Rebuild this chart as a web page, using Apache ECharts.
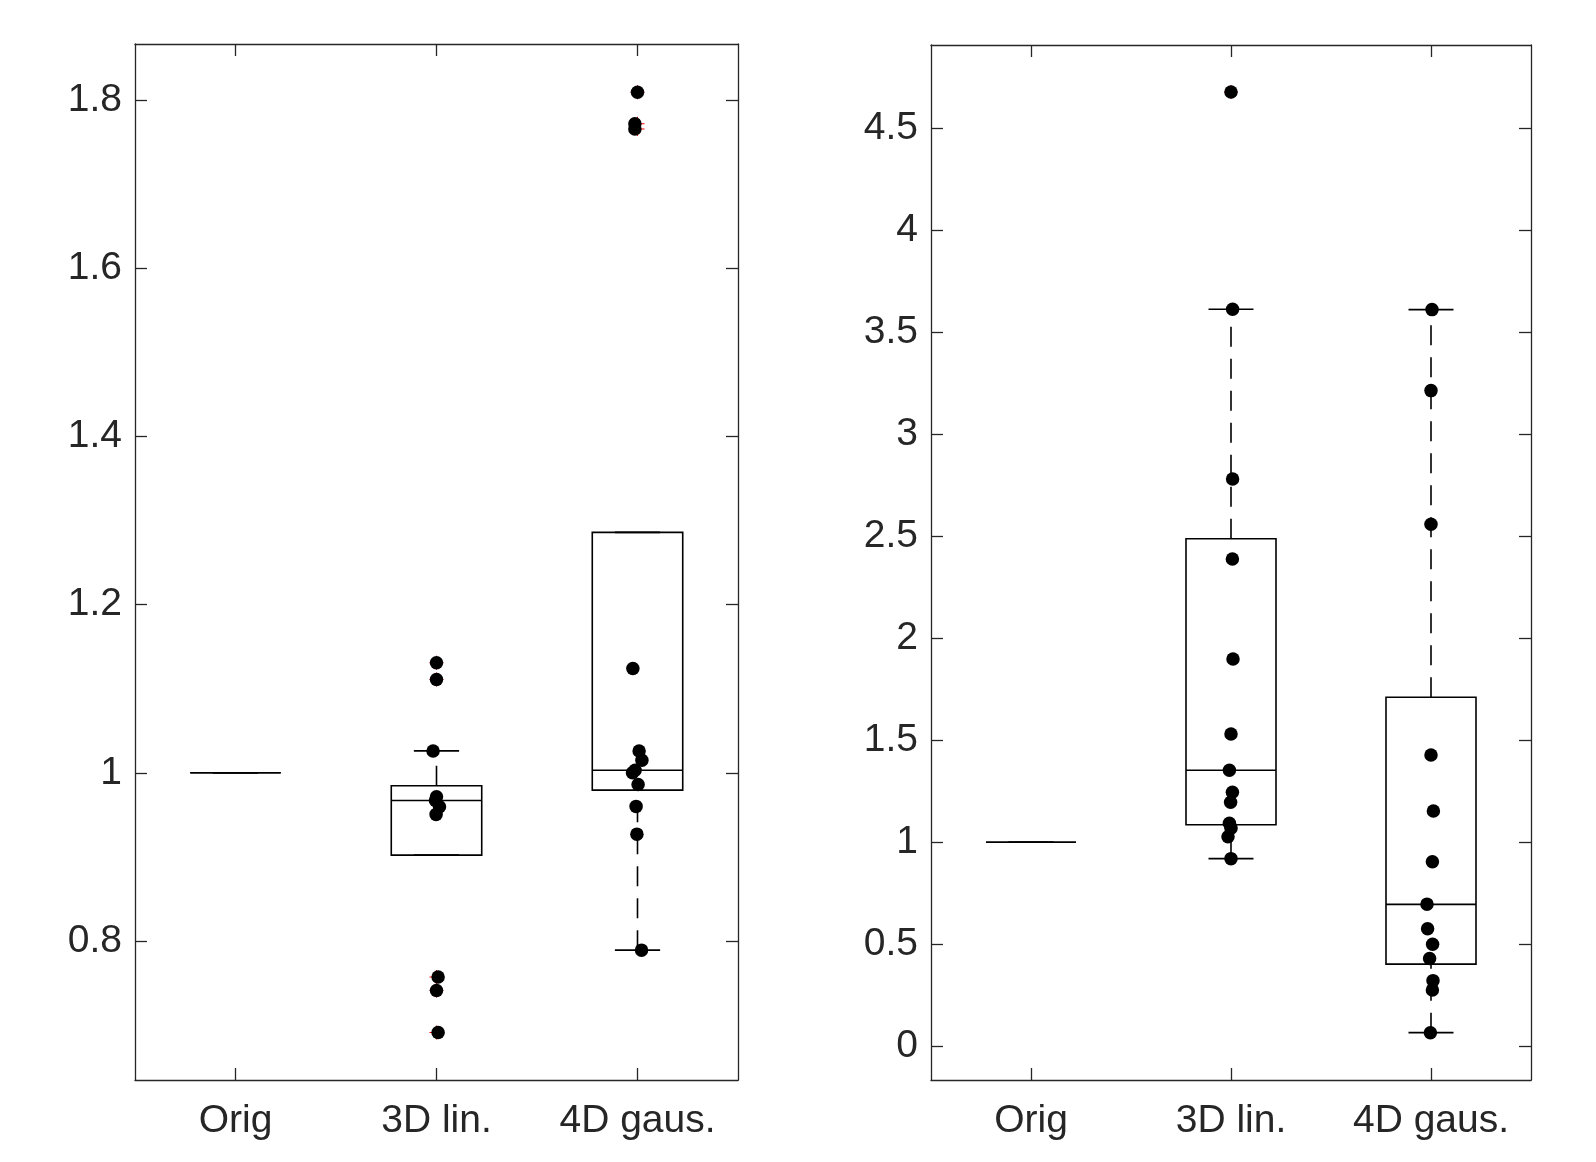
<!DOCTYPE html>
<html lang="en">

<head>
    <meta charset="UTF-8">
    <meta name="viewport" content="width=device-width, initial-scale=1.0">
    <script src="https://cdn.jsdelivr.net/npm/echarts@6.0.0/dist/echarts.min.js"></script>
    <style>
        * {
            margin: 0;
            padding: 0;
        }

        body {
            background-color: #fff;
        }

        #main {
            width: 1596px;
            height: 1162px;
        }
    </style>
    <title>boxplots</title>
</head>

<body>
    <div id="main"></div>
</body>
<script>
    // categories along x (positions 1, 2, 3)
    var categories = ['Orig', '3D lin.', '4D gaus.'];

    // left panel ---------------------------------------------
    var leftTicks = [0.8, 1, 1.2, 1.4, 1.6, 1.8];
    // [position, min whisker, q1, median, q3, max whisker]
    var leftBoxes = [
        [1, 1, 1, 1, 1, 1],
        [2, 0.902, 0.902, 0.967, 0.9845, 1.026],
        [3, 0.789, 0.9794, 1.003, 1.286, 1.286]
    ];
    // single runs [x incl. jitter, value]
    var leftPoints = [
        [2.0, 1.131], [2.0, 1.111], [1.983, 1.026], [2.0, 0.9714], [2.015, 0.9596],
        [1.995, 0.967], [1.998, 0.9505], [2.008, 0.757], [2.0, 0.741], [2.008, 0.691],
        [3.0, 1.8095], [2.987, 1.772], [2.987, 1.766], [2.977, 1.124], [3.008, 1.026],
        [3.022, 1.015], [2.988, 1.003], [2.975, 1.0], [3.003, 0.986], [2.993, 0.960],
        [2.997, 0.927], [3.02, 0.789]
    ];
    // outliers flagged by the boxplot (red +)
    var leftOutliers = [
        [2, 1.131], [2, 1.111], [2, 0.757], [2, 0.741], [2, 0.691],
        [3, 1.8095], [3, 1.772], [3, 1.766]
    ];

    // right panel --------------------------------------------
    var rightTicks = [0, 0.5, 1, 1.5, 2, 2.5, 3, 3.5, 4, 4.5];
    var rightBoxes = [
        [1, 1, 1, 1, 1, 1],
        [2, 0.920, 1.086, 1.353, 2.488, 3.613],
        [3, 0.067, 0.403, 0.696, 1.711, 3.611]
    ];
    var rightPoints = [
        [2.0, 4.678], [2.008, 3.613], [2.008, 2.781], [2.007, 2.389], [2.01, 1.899],
        [2.0, 1.531], [1.992, 1.353], [2.007, 1.245], [1.998, 1.196], [1.992, 1.093],
        [2.0, 1.069], [1.985, 1.027], [2.0, 0.920],
        [3.005, 3.611], [3.0, 3.214], [3.0, 2.559], [3.0, 1.428], [3.012, 1.153],
        [3.007, 0.905], [2.98, 0.697], [2.983, 0.576], [3.008, 0.500], [2.993, 0.431],
        [3.01, 0.322], [3.007, 0.276], [2.997, 0.067]
    ];
    var rightOutliers = [[2, 4.678]];

    var axisColor = '#262626';
    var font = '"Liberation Sans", Arial, Helvetica, sans-serif';
    // thin plus sign, arms 1/14 thick
    var plusPath = 'path://M6.5,0L7.5,0L7.5,6.5L14,6.5L14,7.5L7.5,7.5L7.5,14L6.5,14L6.5,7.5L0,7.5L0,6.5L6.5,6.5Z';

    // box + dashed whiskers + caps, drawn in data coordinates
    function renderBox(params, api) {
        var x = api.value(0);
        var lo = api.value(1), q1 = api.value(2), med = api.value(3), q3 = api.value(4), hi = api.value(5);
        var hw = 0.225, cw = 0.1125;
        var pt = function (a, b) { return api.coord([a, b]); };
        var solid = { stroke: '#000', lineWidth: 1.6, fill: null };
        var dashed = { stroke: '#000', lineWidth: 1.6, fill: null, lineDash: [20, 12] };
        var line = function (p1, p2, st) {
            return { type: 'line', shape: { x1: p1[0], y1: p1[1], x2: p2[0], y2: p2[1] }, style: st };
        };
        var children = [];
        // whiskers are drawn from the lower value upward
        if (q1 > lo) children.push(line(pt(x, lo), pt(x, q1), dashed));
        if (hi > q3) children.push(line(pt(x, q3), pt(x, hi), dashed));
        children.push(line(pt(x - cw, lo), pt(x + cw, lo), solid));
        children.push(line(pt(x - cw, hi), pt(x + cw, hi), solid));
        var a = pt(x - hw, q3), b = pt(x + hw, q1);
        children.push({
            type: 'polygon',
            shape: { points: [[a[0], a[1]], [b[0], a[1]], [b[0], b[1]], [a[0], b[1]]] },
            style: solid
        });
        children.push(line(pt(x - hw, med), pt(x + hw, med), solid));
        return { type: 'group', children: children };
    }

    function xAxes(gridIndex) {
        var base = {
            type: 'value', gridIndex: gridIndex, min: 0.5, max: 3.5,
            axisLine: { show: true, onZero: false, lineStyle: { color: axisColor, width: 1.3 } },
            axisTick: { show: true, inside: true, length: 12, customValues: [1, 2, 3], lineStyle: { color: axisColor, width: 1.3 } },
            splitLine: { show: false }
        };
        var bottom = Object.assign({}, base, {
            position: 'bottom',
            axisLabel: {
                show: true, customValues: [1, 2, 3], margin: 22,
                color: axisColor, fontSize: 39, fontFamily: font,
                formatter: function (v) { return categories[Math.round(v) - 1]; }
            }
        });
        var top = Object.assign({}, base, { position: 'top', axisLabel: { show: false } });
        return [bottom, top];
    }

    function yAxes(gridIndex, min, max, ticks) {
        var base = {
            type: 'value', gridIndex: gridIndex, min: min, max: max,
            axisLine: { show: true, onZero: false, lineStyle: { color: axisColor, width: 1.3 } },
            axisTick: { show: true, inside: true, length: 12, customValues: ticks, lineStyle: { color: axisColor, width: 1.3 } },
            splitLine: { show: false }
        };
        var left = Object.assign({}, base, {
            position: 'left',
            axisLabel: {
                show: true, customValues: ticks, margin: 13,
                color: axisColor, fontSize: 39, fontFamily: font,
                formatter: function (v) { return String(Math.round(v * 10) / 10); }
            }
        });
        var right = Object.assign({}, base, { position: 'right', axisLabel: { show: false } });
        return [left, right];
    }

    function panelSeries(xi, yi, boxes, points, outliers) {
        return [
            {
                type: 'custom', xAxisIndex: xi, yAxisIndex: yi,
                renderItem: renderBox, data: boxes, z: 2, silent: true
            },
            {
                type: 'scatter', xAxisIndex: xi, yAxisIndex: yi,
                symbol: plusPath, symbolSize: 14,
                itemStyle: { color: '#ff0000', opacity: 1 }, data: outliers, z: 3, silent: true
            },
            {
                type: 'scatter', xAxisIndex: xi, yAxisIndex: yi,
                symbol: 'circle', symbolSize: 13.5,
                itemStyle: { color: '#000', opacity: 1 }, data: points, z: 4, silent: true
            }
        ];
    }

    var myChart = echarts.init(document.getElementById('main'));
    var option = {
        animation: false,
        backgroundColor: '#fff',
        grid: [
            { left: 135, top: 44, width: 603, height: 1036 },
            { left: 931, top: 45, width: 600, height: 1035 }
        ],
        xAxis: xAxes(0).concat(xAxes(1)),
        yAxis: yAxes(0, 0.6345, 1.867, leftTicks).concat(yAxes(1, -0.165, 4.908, rightTicks)),
        series: panelSeries(0, 0, leftBoxes, leftPoints, leftOutliers)
            .concat(panelSeries(2, 2, rightBoxes, rightPoints, rightOutliers))
    };
    myChart.setOption(option);
</script>

</html>
